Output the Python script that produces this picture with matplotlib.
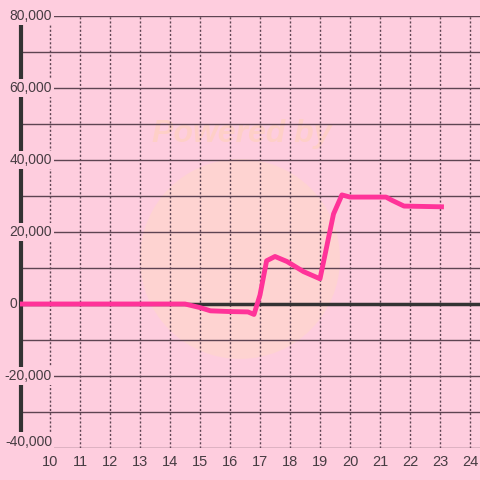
import matplotlib.pyplot as plt
from matplotlib.patches import Circle

# traced values of the pink series
hours = [8.95, 14.5, 15.0, 15.35, 16.0, 16.6, 16.8, 17.0, 17.22, 17.5, 17.9, 18.45,
         19.0, 19.45, 19.73, 20.0, 21.2, 21.4, 21.8, 23.05]
values = [0, 0, -1000, -1900, -2100, -2200, -2900, 2500, 12000, 13200, 11800, 9000,
          7000, 25000, 30300, 29700, 29700, 28800, 27200, 27000]

x_ticks = list(range(10, 25))
y_major = [-40000, -20000, 0, 20000, 40000, 60000, 80000]
y_minor = [-30000, -10000, 10000, 30000, 50000, 70000]

bg = "#fecdde"
grid_col = "#5e4452"
text_col = "#463c42"

plt.rcParams["font.family"] = ["Liberation Sans", "DejaVu Sans"]

fig = plt.figure(figsize=(4.8, 4.8), dpi=100, facecolor=bg)
ax = fig.add_axes([20 / 480, 32 / 480, 460 / 480, 432 / 480])
ax.set_facecolor(bg)
ax.set_xlim(9, 9 + 460 / 30)
ax.set_ylim(-40000, 80000)
for s in ax.spines.values():
    s.set_visible(False)

# faint watermark behind the grid
ax.add_patch(Circle((240 / 480, 1 - 259 / 480), 100 / 480, transform=fig.transFigure,
                    facecolor="#ffd8c8", alpha=0.55, edgecolor="none", zorder=0.5))
ax.text(242 / 480, 1 - 134 / 480, "Powered by", transform=fig.transFigure, ha="center",
        va="center", fontsize=23, fontweight="bold", style="italic", color="#ffd0c0",
        alpha=0.75, zorder=0.6)

for x in x_ticks:
    ax.axvline(x, color=grid_col, lw=1, ls=(0, (1.5, 1.5)), zorder=1)
for y in y_major + y_minor:
    if y != 0:
        ax.axhline(y, color=grid_col, lw=1, zorder=1)
ax.axhline(0, color="#333333", lw=2.5, zorder=2)
ax.plot([9.03, 9.03], [-40000, 80000], color="#333333", lw=3, zorder=2, clip_on=False)

ax.plot(hours, values, color="#ff3399", lw=3.5, zorder=3, solid_joinstyle="round")

for y in y_major:
    if y == 0:
        ax.text(8.9, y, "0", ha="right", va="center", fontsize=10, color=text_col, zorder=4)
        continue
    yy = y + 1800 if y == -40000 else y
    ax.text(10.07, yy, f"{y:,}", ha="right", va="center", fontsize=10, color=text_col,
            bbox=dict(facecolor=bg, edgecolor="none", pad=1.5), zorder=4)

ax.set_yticks([])
ax.set_xticks(x_ticks)
ax.set_xticklabels([str(x) for x in x_ticks])
ax.tick_params(axis="x", length=0, pad=5, labelsize=10.5, labelcolor=text_col)

fig.savefig("out.png", dpi=100, facecolor=bg)
